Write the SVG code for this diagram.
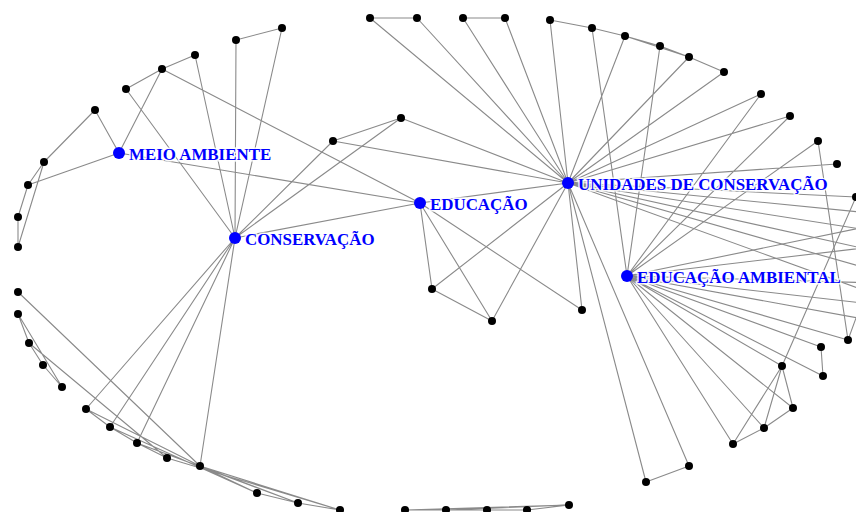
<svg xmlns="http://www.w3.org/2000/svg" width="856" height="512" viewBox="0 0 856 512">
<style>
.e{stroke:#8a8a8a;stroke-width:1.1;fill:none}
.n{fill:#000}
.h{fill:#0000ff}
.t{font-family:"Liberation Serif","Times New Roman",serif;font-weight:bold;font-size:16.9px;fill:#0000ff;stroke:#ffffff;stroke-width:3px;stroke-opacity:0.85;paint-order:stroke}
</style>
<rect width="856" height="512" fill="#ffffff"/>
<g id="connectors">
<path class="e" d="M282,28L236,40M236,40L235,238M282,28L235,238M195,55L162,69M195,55L235,238M162,69L126,89M162,69L119,153M162,69L420,203M126,89L235,238M95,110L119,153M95,110L44,162M44,162L18,247M44,162L28,185M28,185L18,217M18,217L18,247M28,185L119,153M119,153L420,203"/>
<path class="e" d="M235,238L333,141M235,238L401,118M235,238L420,203M235,238L86,409M235,238L110,427M235,238L137,443M235,238L200,466"/>
<path class="e" d="M333,141L401,118M333,141L568,183M401,118L568,183M420,203L568,183M420,203L432,289M420,203L492,321M420,203L582,310M432,289L492,321M432,289L568,183M492,321L568,183M582,310L568,183"/>
<path class="e" d="M370,18L417,18M370,18L568,183M417,18L568,183M463,18L505,18M463,18L568,183M505,18L568,183M550,20L592,28M550,20L568,183M592,28L627,276M592,28L625,36M625,36L660,46M625,36L689,57M660,46L689,57M689,57L724,72M625,36L568,183M660,46L627,276M689,57L568,183M724,72L568,183M761,94L568,183M761,94L627,276M790,116L568,183M790,116L627,276M837,164L568,183M818,141L848,340M818,141L627,276"/>
<path class="e" d="M568,183L880,214M568,183L880,232M568,183L880,252M568,183L880,272M568,183L880,296M568,183L856,197"/>
<path class="e" d="M627,276L880,224M627,276L880,246M627,276L880,283M627,276L880,305M627,276L880,322M848,340L880,252"/>
<path class="e" d="M627,276L733,444M627,276L764,428M627,276L793,408M627,276L782,366M627,276L823,376M627,276L821,347M627,276L848,340M733,444L764,428M764,428L793,408M782,366L793,408M782,366L764,428M782,366L733,444M821,347L823,376M782,366L856,197"/>
<path class="e" d="M568,183L646,482M568,183L689,466M646,482L689,466"/>
<path class="e" d="M18,292L200,466M29,343L167,458M18,314L29,343M18,314L62,387M29,343L43,365M43,365L62,387M86,409L110,427M86,409L200,466M110,427L137,443M137,443L167,458M110,427L257,493M137,443L298,503M167,458L340,510M200,466L257,493M200,466L298,503M200,466L340,510M257,493L298,503M298,503L340,510"/>
<path class="e" d="M405,510L446,510M446,510L487,510M487,510L527,510M527,510L569,505M405,510L569,505M446,510L569,505M405,510L527,510"/>
</g>
<g id="node-n1"><circle class="n" cx="282" cy="28" r="4"/></g>
<g id="node-n2"><circle class="n" cx="236" cy="40" r="4"/></g>
<g id="node-n3"><circle class="n" cx="195" cy="55" r="4"/></g>
<g id="node-n4"><circle class="n" cx="162" cy="69" r="4"/></g>
<g id="node-n5"><circle class="n" cx="126" cy="89" r="4"/></g>
<g id="node-n6"><circle class="n" cx="95" cy="110" r="4"/></g>
<g id="node-n7"><circle class="n" cx="44" cy="162" r="4"/></g>
<g id="node-n8"><circle class="n" cx="28" cy="185" r="4"/></g>
<g id="node-n9"><circle class="n" cx="18" cy="217" r="4"/></g>
<g id="node-n10"><circle class="n" cx="18" cy="247" r="4"/></g>
<g id="node-n11"><circle class="n" cx="370" cy="18" r="4"/></g>
<g id="node-n12"><circle class="n" cx="417" cy="18" r="4"/></g>
<g id="node-n13"><circle class="n" cx="463" cy="18" r="4"/></g>
<g id="node-n14"><circle class="n" cx="505" cy="18" r="4"/></g>
<g id="node-n15"><circle class="n" cx="550" cy="20" r="4"/></g>
<g id="node-n16"><circle class="n" cx="592" cy="28" r="4"/></g>
<g id="node-n17"><circle class="n" cx="625" cy="36" r="4"/></g>
<g id="node-n18"><circle class="n" cx="660" cy="46" r="4"/></g>
<g id="node-n19"><circle class="n" cx="689" cy="57" r="4"/></g>
<g id="node-n20"><circle class="n" cx="724" cy="72" r="4"/></g>
<g id="node-n21"><circle class="n" cx="761" cy="94" r="4"/></g>
<g id="node-n22"><circle class="n" cx="790" cy="116" r="4"/></g>
<g id="node-n23"><circle class="n" cx="818" cy="141" r="4"/></g>
<g id="node-n24"><circle class="n" cx="837" cy="164" r="4"/></g>
<g id="node-n25"><circle class="n" cx="856" cy="197" r="4"/></g>
<g id="node-n26"><circle class="n" cx="401" cy="118" r="4"/></g>
<g id="node-n27"><circle class="n" cx="333" cy="141" r="4"/></g>
<g id="node-n28"><circle class="n" cx="432" cy="289" r="4"/></g>
<g id="node-n29"><circle class="n" cx="492" cy="321" r="4"/></g>
<g id="node-n30"><circle class="n" cx="582" cy="310" r="4"/></g>
<g id="node-n31"><circle class="n" cx="848" cy="340" r="4"/></g>
<g id="node-n32"><circle class="n" cx="821" cy="347" r="4"/></g>
<g id="node-n33"><circle class="n" cx="823" cy="376" r="4"/></g>
<g id="node-n34"><circle class="n" cx="782" cy="366" r="4"/></g>
<g id="node-n35"><circle class="n" cx="793" cy="408" r="4"/></g>
<g id="node-n36"><circle class="n" cx="764" cy="428" r="4"/></g>
<g id="node-n37"><circle class="n" cx="733" cy="444" r="4"/></g>
<g id="node-n38"><circle class="n" cx="689" cy="466" r="4"/></g>
<g id="node-n39"><circle class="n" cx="646" cy="482" r="4"/></g>
<g id="node-n40"><circle class="n" cx="569" cy="505" r="4"/></g>
<g id="node-n41"><circle class="n" cx="527" cy="510" r="4"/></g>
<g id="node-n42"><circle class="n" cx="487" cy="510" r="4"/></g>
<g id="node-n43"><circle class="n" cx="446" cy="510" r="4"/></g>
<g id="node-n44"><circle class="n" cx="405" cy="510" r="4"/></g>
<g id="node-n45"><circle class="n" cx="340" cy="510" r="4"/></g>
<g id="node-n46"><circle class="n" cx="298" cy="503" r="4"/></g>
<g id="node-n47"><circle class="n" cx="257" cy="493" r="4"/></g>
<g id="node-n48"><circle class="n" cx="200" cy="466" r="4"/></g>
<g id="node-n49"><circle class="n" cx="167" cy="458" r="4"/></g>
<g id="node-n50"><circle class="n" cx="137" cy="443" r="4"/></g>
<g id="node-n51"><circle class="n" cx="110" cy="427" r="4"/></g>
<g id="node-n52"><circle class="n" cx="86" cy="409" r="4"/></g>
<g id="node-n53"><circle class="n" cx="62" cy="387" r="4"/></g>
<g id="node-n54"><circle class="n" cx="43" cy="365" r="4"/></g>
<g id="node-n55"><circle class="n" cx="29" cy="343" r="4"/></g>
<g id="node-n56"><circle class="n" cx="18" cy="314" r="4"/></g>
<g id="node-n57"><circle class="n" cx="18" cy="292" r="4"/></g>
<g id="node-meio-ambiente"><circle class="h" cx="119" cy="153" r="6"/><text class="t" x="129" y="160">MEIO AMBIENTE</text></g>
<g id="node-conservacao"><circle class="h" cx="235" cy="238" r="6"/><text class="t" x="245" y="245">CONSERVAÇÃO</text></g>
<g id="node-educacao"><circle class="h" cx="420" cy="203" r="6"/><text class="t" x="430" y="210">EDUCAÇÃO</text></g>
<g id="node-unidades"><circle class="h" cx="568" cy="183" r="6"/><text class="t" x="578" y="190">UNIDADES DE CONSERVAÇÃO</text></g>
<g id="node-educacao-ambiental"><circle class="h" cx="627" cy="276" r="6"/><text class="t" x="637" y="283">EDUCAÇÃO AMBIENTAL</text></g>
</svg>
